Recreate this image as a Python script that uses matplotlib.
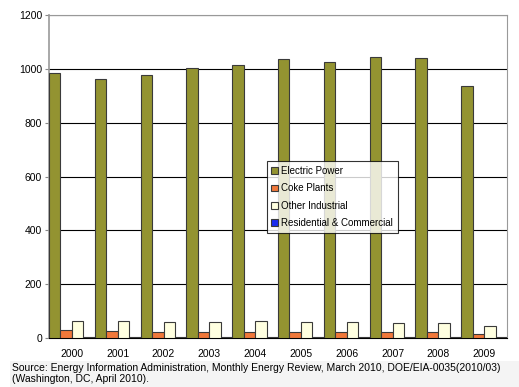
import numpy as np
import matplotlib.pyplot as plt
from matplotlib.patches import Rectangle

plt.rcParams['font.family'] = ['Liberation Sans', 'DejaVu Sans']

years = ['2000', '2001', '2002', '2003', '2004', '2005', '2006', '2007', '2008', '2009']
electric_power = [986, 964, 977, 1005, 1016, 1037, 1027, 1045, 1040, 936]
coke_plants = [29, 26, 24, 24, 24, 23, 23, 23, 22, 15]
other_industrial = [65, 64, 61, 61, 62, 60, 60, 57, 55, 46]
residential_commercial = [4, 4, 4, 4, 5, 5, 3, 3, 3, 3]
series_names = ['Electric Power', 'Coke Plants', 'Other Industrial', 'Residential & Commercial']
yticks = [0, 200, 400, 600, 800, 1000, 1200]
source_text = ('Source: Energy Information Administration, Monthly Energy Review, March 2010, '
               'DOE/EIA-0035(2010/03)\n(Washington, DC, April 2010).')

colors = ['#939331', '#f0783a', '#ffffe0', '#1a2cf0']

fig = plt.figure(figsize=(5.19, 3.87), dpi=100)
# light grey band behind the source note
fig.patches.append(Rectangle((0.02, 0), 0.98, 0.068, transform=fig.transFigure,
                             facecolor='#f4f4f4', edgecolor='none', zorder=0))
ax = fig.add_axes([0.0944, 0.1266, 0.8826, 0.8346])

x = np.arange(len(years))
w = 0.25
all_series = [electric_power, coke_plants, other_industrial, residential_commercial]
for i, (vals, name, c) in enumerate(zip(all_series, series_names, colors)):
    ax.bar(x - 0.5 + w * (i + 0.5), vals, width=w, color=c, edgecolor='#3a3a3a',
           linewidth=0.8, label=name, zorder=3)

ax.set_xlim(-0.5, len(years) - 0.5)
ax.set_ylim(0, 1200)
ax.set_yticks(yticks)
ax.set_xticks(x)
ax.set_xticklabels(years, fontsize=7.5)
ax.tick_params(axis='y', labelsize=7.5, length=3, color='#888888', pad=2)
ax.tick_params(axis='x', length=0, pad=8)
ax.grid(axis='y', color='black', linewidth=0.8, zorder=1)
for side in ['top', 'right', 'left']:
    ax.spines[side].set_color('#999999')
ax.spines['left'].set_linewidth(1.2)
ax.spines['bottom'].set_color('black')

leg = ax.legend(loc='upper left', bbox_to_anchor=(0.475, 0.547), fontsize=7,
                frameon=True, fancybox=False, edgecolor='black', handlelength=0.7,
                handleheight=0.7, handletextpad=0.3, labelspacing=0.75,
                borderpad=0.5, borderaxespad=0)
leg.get_frame().set_linewidth(0.8)
leg.set_zorder(5)

fig.text(0.023, 0.062, source_text, fontsize=7.5, va='top', ha='left', linespacing=1.15)

fig.savefig('out.png', dpi=100)
